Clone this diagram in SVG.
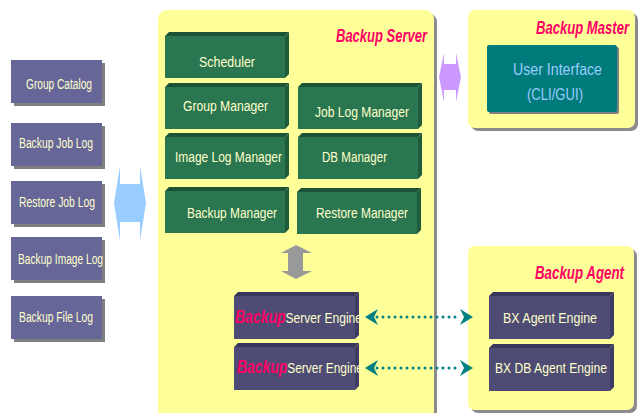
<svg xmlns="http://www.w3.org/2000/svg" xmlns:xlink="http://www.w3.org/1999/xlink" width="639" height="413" viewBox="0 0 639 413">
  <style>
    .panel { fill: #FFFF99; }
    .pshadow { fill: #8C8C8C; }
    .title { font-family: "Liberation Sans", Arial, sans-serif; font-weight: bold; font-style: italic; font-size: 18px; fill: #FF0066; }
    .ptitle { text-anchor: end; }
    .lbl { font-family: "Liberation Sans", Arial, sans-serif; font-size: 15.5px; fill: #FFFFCC; }
    .small { font-size: 14px; }
    .mark { font-weight: bold; font-style: italic; font-size: 18px; fill: #FF0066; }
    .log { fill: #666699; }
    .logsh { fill: #808080; }
    .gf { fill: #2A7650; }
    .gt { fill: #1C5236; }
    .gr { fill: #1F5C3D; }
    .ef { fill: #4E4C74; }
    .et { fill: #38365A; }
    .er { fill: #3E3C62; }
    .ui { fill: #007B7B; }
    .uitext { font-family: "Liberation Sans", Arial, sans-serif; font-size: 17px; fill: #99CCFF; }
    .dots { fill: none; stroke: #008080; stroke-width: 3; stroke-linecap: round; stroke-dasharray: 0 6; }
  </style>
  <defs>
    <!-- bevelled block, green -->
    <g id="gcube">
      <rect class="gf" x="0" y="4" width="120" height="42"/>
      <polygon class="gt" points="0,4 4,0 124,0 120,4"/>
      <polygon class="gr" points="120,4 124,0 124,42 120,46"/>
    </g>
    <!-- bevelled block, slate -->
    <g id="ecube">
      <rect class="ef" x="0" y="4" width="121" height="43"/>
      <polygon class="et" points="0,4 4,0 125,0 121,4"/>
      <polygon class="er" points="121,4 125,0 125,43 121,47"/>
    </g>
    <g id="logbox">
      <rect class="logsh" x="3" y="3" width="91" height="43"/>
      <rect class="log" x="0" y="0" width="91" height="43"/>
    </g>
    <marker id="tip" markerUnits="userSpaceOnUse" markerWidth="14" markerHeight="18" viewBox="0 0 14 18" refX="1" refY="9" orient="auto-start-reverse">
      <path d="M0,1 L13,9 L0,17 L4,9 Z" fill="#008080"/>
    </marker>
  </defs>

  <!-- log tables -->
  <g id="group-catalog">
    <use xlink:href="#logbox" x="11" y="60"/>
    <text class="lbl small" x="26" y="89" textLength="66" lengthAdjust="spacingAndGlyphs">Group Catalog</text>
  </g>
  <g id="backup-job-log">
    <use xlink:href="#logbox" x="11" y="123"/>
    <text class="lbl small" x="19" y="148" textLength="74" lengthAdjust="spacingAndGlyphs">Backup Job Log</text>
  </g>
  <g id="restore-job-log">
    <use xlink:href="#logbox" x="11" y="181"/>
    <text class="lbl small" x="19" y="207" textLength="76" lengthAdjust="spacingAndGlyphs">Restore Job Log</text>
  </g>
  <g id="backup-image-log">
    <use xlink:href="#logbox" x="11" y="237"/>
    <text class="lbl small" x="18" y="264" textLength="85" lengthAdjust="spacingAndGlyphs">Backup Image Log</text>
  </g>
  <g id="backup-file-log">
    <use xlink:href="#logbox" x="11" y="296"/>
    <text class="lbl small" x="19" y="322" textLength="74" lengthAdjust="spacingAndGlyphs">Backup File Log</text>
  </g>

  <!-- Backup Server panel -->
  <g id="backup-server">
    <rect class="pshadow" x="161" y="13" width="276" height="410" rx="9"/>
    <rect class="panel" x="158" y="10" width="276" height="410" rx="9"/>
    <text class="title ptitle" x="427" y="42" textLength="91" lengthAdjust="spacingAndGlyphs">Backup Server</text>
  </g>

  <g id="scheduler">
    <use xlink:href="#gcube" x="165" y="32"/>
    <text class="lbl" x="199" y="67" textLength="56" lengthAdjust="spacingAndGlyphs">Scheduler</text>
  </g>
  <g id="group-manager">
    <use xlink:href="#gcube" x="165" y="83"/>
    <text class="lbl" x="183" y="111" textLength="85" lengthAdjust="spacingAndGlyphs">Group Manager</text>
  </g>
  <g id="job-log-manager">
    <use xlink:href="#gcube" x="298" y="83"/>
    <text class="lbl" x="315" y="117" textLength="94" lengthAdjust="spacingAndGlyphs">Job Log Manager</text>
  </g>
  <g id="image-log-manager">
    <use xlink:href="#gcube" x="165" y="133"/>
    <text class="lbl" x="175" y="162" textLength="107" lengthAdjust="spacingAndGlyphs">Image Log Manager</text>
  </g>
  <g id="db-manager">
    <use xlink:href="#gcube" x="298" y="133"/>
    <text class="lbl" x="322" y="162" textLength="65" lengthAdjust="spacingAndGlyphs">DB Manager</text>
  </g>
  <g id="backup-manager">
    <use xlink:href="#gcube" x="165" y="187"/>
    <text class="lbl" x="187" y="218" textLength="90" lengthAdjust="spacingAndGlyphs">Backup Manager</text>
  </g>
  <g id="restore-manager">
    <use xlink:href="#gcube" x="297" y="188"/>
    <text class="lbl" x="316" y="218" textLength="92" lengthAdjust="spacingAndGlyphs">Restore Manager</text>
  </g>

  <g id="server-engine-1">
    <use xlink:href="#ecube" x="234" y="292"/>
    <text class="lbl" x="235" y="323" textLength="127" lengthAdjust="spacingAndGlyphs"><tspan class="mark">Backup</tspan>Server Engine</text>
  </g>
  <g id="server-engine-2">
    <use xlink:href="#ecube" x="234" y="343"/>
    <text class="lbl" x="237" y="373" textLength="126" lengthAdjust="spacingAndGlyphs"><tspan class="mark">Backup</tspan>Server Engine</text>
  </g>

  <!-- Backup Master panel -->
  <g id="backup-master">
    <rect class="pshadow" x="471" y="13" width="167" height="118" rx="7"/>
    <rect class="panel" x="468" y="10" width="167" height="118" rx="7"/>
    <text class="title ptitle" x="629" y="34" textLength="93" lengthAdjust="spacingAndGlyphs">Backup Master</text>
  </g>
  <g id="user-interface">
    <rect class="logsh" x="489" y="47" width="130" height="67" rx="2"/>
    <rect class="ui" x="487" y="45" width="130" height="67" rx="2"/>
    <text class="uitext" x="513" y="75" textLength="89" lengthAdjust="spacingAndGlyphs">User Interface</text>
    <text class="uitext" x="527" y="100" textLength="56" lengthAdjust="spacingAndGlyphs">(CLI/GUI)</text>
  </g>

  <!-- Backup Agent panel -->
  <g id="backup-agent">
    <rect class="pshadow" x="471" y="249" width="166" height="164" rx="7"/>
    <rect class="panel" x="468" y="246" width="166" height="164" rx="7"/>
    <text class="title ptitle" x="624" y="279" textLength="89" lengthAdjust="spacingAndGlyphs">Backup Agent</text>
  </g>
  <g id="bx-agent-engine">
    <use xlink:href="#ecube" x="489" y="292"/>
    <text class="lbl" x="503" y="323" textLength="94" lengthAdjust="spacingAndGlyphs">BX Agent Engine</text>
  </g>
  <g id="bx-db-agent-engine">
    <use xlink:href="#ecube" x="489" y="344"/>
    <text class="lbl" x="495" y="373" textLength="112" lengthAdjust="spacingAndGlyphs">BX DB Agent Engine</text>
  </g>

  <!-- connectors -->
  <g id="connectors">
    <!-- logs <-> server -->
    <polygon fill="#99CCFF" points="114,203 120,166 120,184 140,184 140,166 146,203 140,241 140,222 120,222 120,241"/>
    <!-- server <-> master -->
    <polygon fill="#CC99FF" points="439,77 444,53 444,64 456,64 456,53 461,77 456,102 456,90 444,90 444,102"/>
    <!-- managers <-> engines -->
    <polygon fill="#999999" points="296,245 312,253 303,253 303,271 312,271 296,279 281,271 288,271 288,253 281,253"/>
    <!-- engines <-> agent -->
    <path class="dots" d="M377,317 H461" marker-start="url(#tip)" marker-end="url(#tip)"/>
    <path class="dots" d="M377,368 H461" marker-start="url(#tip)" marker-end="url(#tip)"/>
  </g>
</svg>
